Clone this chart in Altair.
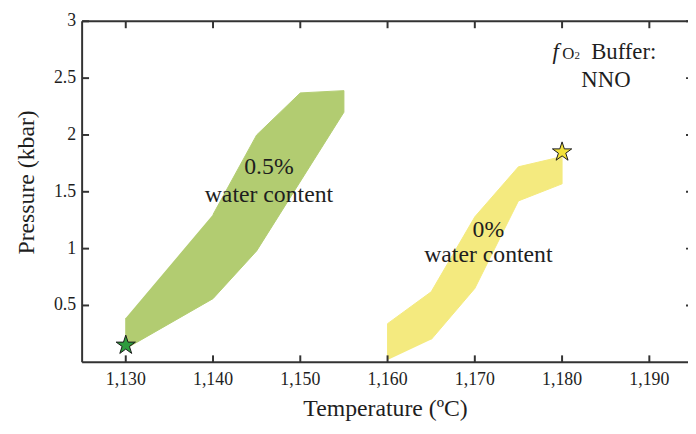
import altair as alt
import pandas as pd

# ---------------- data ----------------
temp_ticks = [1130, 1140, 1150, 1160, 1170, 1180, 1190]
pressure_ticks = [0.5, 1.0, 1.5, 2.0, 2.5, 3.0]

# 0.5 % water content field (polygon vertices, T in degC, P in kbar)
green_temp = [1130, 1130, 1140, 1145, 1155, 1155, 1150, 1145, 1140]
green_pres = [0.39, 0.12, 0.56, 0.98, 2.20, 2.39, 2.37, 2.00, 1.30]

# 0 % water content field
yellow_temp = [1160, 1160, 1165, 1170, 1175, 1180, 1180, 1175, 1170, 1165]
yellow_pres = [0.02, 0.34, 0.62, 1.28, 1.72, 1.81, 1.57, 1.42, 0.65, 0.20]

# stars
star_temp = [1130, 1180]
star_pres = [0.15, 1.85]
star_group = ["0.5%", "0%"]

# ---------------- styling ----------------
FONT = "Liberation Serif"
INK = "#333333"
TXT = "#1e1e1e"
GREEN_FILL = "#b2cc71"
YELLOW_FILL = "#f4ea7f"
GREEN_STAR = "#2e9b3e"
YELLOW_STAR = "#f2e13a"
STAR_PATH = ("M0,-1L0.2245,-0.309L0.951,-0.309L0.363,0.118L0.588,0.809L0,0.382"
             "L-0.588,0.809L-0.363,0.118L-0.951,-0.309L-0.2245,-0.309Z")

W, H = 613, 345
# the frame of the original runs a little past the right edge of the picture
XS = alt.Scale(domain=[1125, 1194.43], nice=False, zero=False)
YS = alt.Scale(domain=[0, 3], nice=False, zero=False)

green_df = pd.DataFrame({"T": green_temp, "P": green_pres, "i": list(range(len(green_temp)))})
yellow_df = pd.DataFrame({"T": yellow_temp, "P": yellow_pres, "i": list(range(len(yellow_temp)))})
star_df = pd.DataFrame({"T": star_temp, "P": star_pres, "g": star_group})
xt_df = pd.DataFrame({"T": temp_ticks, "lab": [f"{v:,}" for v in temp_ticks]})
yt_df = pd.DataFrame({"P": pressure_ticks, "lab": [f"{v:g}" for v in pressure_ticks]})
one_df = pd.DataFrame({"k": [0]})

XF = alt.X("T:Q", scale=XS, axis=None)
YF = alt.Y("P:Q", scale=YS, axis=None)

green_poly = alt.Chart(green_df).mark_line(
    fill=GREEN_FILL, stroke=GREEN_FILL, strokeWidth=1
).encode(x=XF, y=YF, order=alt.Order("i:Q"))

yellow_poly = alt.Chart(yellow_df).mark_line(
    fill=YELLOW_FILL, stroke=YELLOW_FILL, strokeWidth=1
).encode(x=XF, y=YF, order=alt.Order("i:Q"))

stars = alt.Chart(star_df).mark_point(
    shape=STAR_PATH, filled=True, stroke="#1a1a1a", strokeWidth=1, size=420, opacity=1,
).encode(
    x=XF, y=YF,
    fill=alt.Fill("g:N", scale=alt.Scale(domain=["0.5%", "0%"], range=[GREEN_STAR, YELLOW_STAR]), legend=None),
)

# frame (left, bottom, top; the right side lies beyond the picture)
frame_bottom = alt.Chart(one_df).mark_rule(color=INK, strokeWidth=2).encode(
    x=alt.value(0), x2=alt.value("width"), y=alt.value(H))
frame_top = alt.Chart(one_df).mark_rule(color=INK, strokeWidth=2).encode(
    x=alt.value(0), x2=alt.value("width"), y=alt.value(0))
frame_left = alt.Chart(one_df).mark_rule(color=INK, strokeWidth=2).encode(
    x=alt.value(0), y=alt.value(0), y2=alt.value("height"))

# inward tick marks on all four sides, placed at the tick values
tick_style = dict(color=INK, size=7, thickness=2, opacity=1)
bottom_ticks = alt.Chart(xt_df).mark_tick(orient="vertical", **tick_style).encode(
    x=XF, y=alt.value(H - 3.5))
top_ticks = alt.Chart(xt_df).mark_tick(orient="vertical", **tick_style).encode(
    x=XF, y=alt.value(3.5))
left_ticks = alt.Chart(yt_df).mark_tick(orient="horizontal", **tick_style).encode(
    y=YF, x=alt.value(3.5))
right_ticks = alt.Chart(yt_df).mark_tick(orient="horizontal", color=INK, size=2, thickness=2, opacity=1).encode(
    y=YF, x=alt.value(W - 1))

# tick labels
x_labels = alt.Chart(xt_df).mark_text(
    font=FONT, fontSize=18, color=TXT, align="center", baseline="top"
).encode(x=XF, y=alt.value(H + 9), text="lab:N")
y_labels = alt.Chart(yt_df).mark_text(
    font=FONT, fontSize=18, color=TXT, align="right", baseline="middle"
).encode(y=YF, x=alt.value(-6), text="lab:N")


def label(text, x, y, size=24, align="center", style="normal", angle=0, baseline="alphabetic"):
    return alt.Chart(pd.DataFrame({"t": [text]})).mark_text(
        font=FONT, fontSize=size, color=TXT, align=align,
        baseline=baseline, fontStyle=style, angle=angle,
    ).encode(text="t:N", x=alt.value(x), y=alt.value(y))


texts = [
    label("Temperature (ºC)", 307, 399, size=24),
    label("Pressure (kbar)", -56, 163, size=24, angle=270, baseline="middle"),
    label("0.5%", 189, 154),
    label("water content", 189, 183),
    label("0%", 411, 218),
    label("water content", 411, 244),
    label("f", 479, 38, size=23, style="italic"),
    label("O", 492, 38, size=17),
    label("2", 501, 38, size=11),
    label("Buffer:", 515, 38, size=23, align="left"),
    label("NNO", 530, 66, size=23),
]

chart = alt.layer(
    green_poly, yellow_poly,
    frame_bottom, frame_top, frame_left,
    bottom_ticks, top_ticks, left_ticks, right_ticks,
    x_labels, y_labels, *texts, stars
).properties(
    width=W, height=H,
    autosize=alt.AutoSizeParams(type="none"),
    padding={"left": 75, "top": 11, "right": 0, "bottom": 62},
    background="white",
).configure_view(stroke="transparent")

chart.save("out.html", embed_options={"renderer": "svg", "actions": False})
